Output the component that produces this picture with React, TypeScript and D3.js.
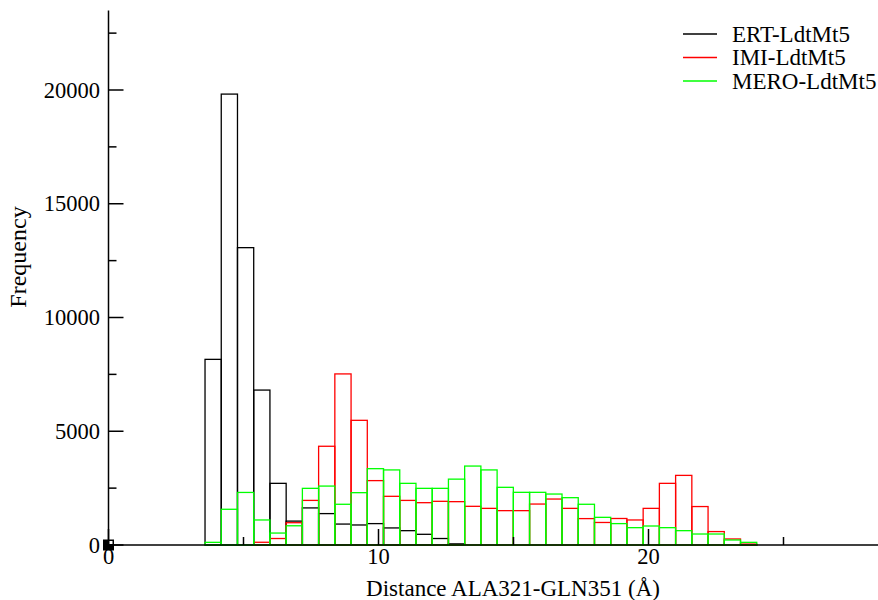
import React, { useEffect, useRef } from 'react'
import * as d3 from 'd3'

// histogram bins (Å): common left edge and width for all three sets
const binStart = 3.575
const binWidth = 0.601

const ert = [8160, 19820, 13070, 6810, 2710, 1050, 1630, 1380, 920, 880, 940, 750, 630, 470, 285, 50,
  0, 0, 0, 0, 0, 0, 0, 0, 0, 0, 0, 0, 0, 0, 0, 0, 0, 10]
const imi = [0, 0, 0, 120, 285, 980, 1960, 4340, 7520, 5480, 2830, 2140, 1960, 1860, 1920, 1905,
  1700, 1610, 1510, 1510, 1800, 2020, 1610, 1160, 990, 1165, 1100, 1610, 2710, 3060, 1690, 590, 265, 40]
const mero = [117, 1570, 2310, 1100, 525, 845, 2490, 2590, 1790, 2300, 3355, 3300, 2710, 2490, 2490, 2895,
  3470, 3300, 2535, 2315, 2315, 2240, 2080, 1790, 1216, 940, 762, 835, 762, 630, 483, 483, 220, 117]

const series = [
  { name: 'ERT-LdtMt5', values: ert, color: '#000000' },
  { name: 'IMI-LdtMt5', values: imi, color: '#ff0000' },
  { name: 'MERO-LdtMt5', values: mero, color: '#00ff00' }
]

const xMajor = [0, 10, 20]
const xMinor = [5, 15, 25]
const yMajor = [0, 5000, 10000, 15000, 20000]
const yMinor = [2500, 7500, 12500, 17500, 22500]

const font = '"Liberation Serif", "Times New Roman", serif'
const fontSize = 22.5

function App() {
  const ref = useRef(null)

  useEffect(() => {
    if (!ref.current) return
    const svg = d3.select(ref.current)
    svg.selectAll('*').remove()

    const x = d3.scaleLinear().domain([0, 30]).range([108.5, 918.5])
    const y = d3.scaleLinear().domain([0, 20000]).range([545, 90])
    const yTop = y(23500)

    // bars, drawn set by set (green ends up on top)
    series.forEach(s => {
      svg.append('g')
        .selectAll('rect')
        .data(s.values.map((v, i) => ({ v, i })).filter(d => d.v > 0))
        .join('rect')
          .attr('x', d => x(binStart + d.i * binWidth))
          .attr('width', d => x(binStart + (d.i + 1) * binWidth) - x(binStart + d.i * binWidth))
          .attr('y', d => y(d.v))
          .attr('height', d => y(0) - y(d.v))
          .attr('fill', 'none')
          .attr('stroke', s.color)
          .attr('stroke-width', 1.3)
    })

    // axes
    const ax = svg.append('g').attr('stroke', '#000').attr('stroke-width', 1.5)
    ax.append('line').attr('x1', x(0)).attr('x2', x(30)).attr('y1', y(0)).attr('y2', y(0))
    ax.append('line').attr('x1', x(0)).attr('x2', x(0)).attr('y1', y(0)).attr('y2', yTop)
    ax.selectAll('.yt').data(yMajor.concat(yMinor)).join('line')
      .attr('x1', x(0)).attr('x2', d => x(0) + (yMajor.includes(d) ? 15 : 8))
      .attr('y1', d => y(d)).attr('y2', d => y(d))
    ax.selectAll('.xt').data(xMajor.concat(xMinor)).join('line')
      .attr('x1', d => x(d)).attr('x2', d => x(d))
      .attr('y1', y(0)).attr('y2', d => y(0) - (xMajor.includes(d) ? 16 : 8))

    const txt = svg.append('g').attr('font-family', font).attr('font-size', fontSize).attr('fill', '#000')
    txt.selectAll('.yl').data(yMajor).join('text')
      .attr('x', 100).attr('y', d => y(d) + 7.5)
      .attr('text-anchor', 'end')
      .text(d => d)
    txt.selectAll('.xl').data(xMajor).join('text')
      .attr('x', d => x(d)).attr('y', 564)
      .attr('text-anchor', 'middle')
      .text(d => d)
    txt.append('text')
      .attr('x', 513).attr('y', 596)
      .attr('font-size', 23)
      .attr('text-anchor', 'middle')
      .text('Distance ALA321-GLN351 (Å)')
    txt.append('text')
      .attr('transform', 'translate(26,257) rotate(-90)')
      .attr('font-size', 24)
      .attr('text-anchor', 'middle')
      .text('Frequency')

    // marker at the origin
    svg.append('rect').attr('x', x(0) - 5.5).attr('y', y(0) - 5.5).attr('width', 11).attr('height', 11).attr('fill', '#000')
    svg.append('rect').attr('x', x(0) + 1).attr('y', y(0) - 4).attr('width', 3).attr('height', 3).attr('fill', '#fff')

    // legend
    const lg = svg.append('g').selectAll('g').data(series).join('g')
      .attr('transform', (d, i) => `translate(0, ${34 + i * 23.5})`)
    lg.append('line').attr('x1', 683).attr('x2', 717).attr('stroke', d => d.color).attr('stroke-width', 1.3)
    lg.append('text').attr('x', 732).attr('y', 7.5)
      .attr('font-family', font).attr('font-size', 23)
      .text(d => d.name)
  }, [])

  return (
    <svg ref={ref} width={878} height={600}
      style={{ position: 'absolute', left: 0, top: 0, background: '#fff' }} />
  )
}

export default App
